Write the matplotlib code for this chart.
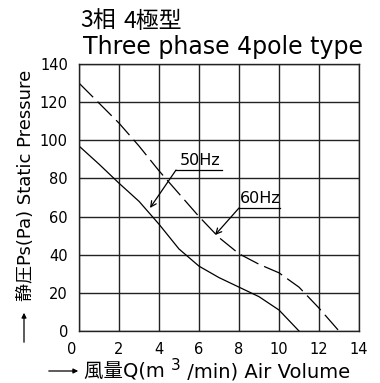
import matplotlib
matplotlib.use("Agg")
import matplotlib.pyplot as plt

plt.rcParams['font.family'] = ['DejaVu Sans', 'Noto Sans CJK JP']

# Data
q50 = [0, 1, 2, 3, 4, 5, 6, 7, 8, 9, 10, 11]
p50 = [97, 87.5, 77.5, 68, 56, 43, 34, 28, 23, 18, 11, 0]
q60 = [0, 1, 2, 3, 4, 5, 6, 7, 8, 9, 10, 11, 12, 13]
p60 = [130, 119.5, 109, 97, 84, 72, 60, 49, 40.5, 35, 30.5, 23, 12, 0]
xticks = [0, 2, 4, 6, 8, 10, 12, 14]
yticks = [0, 20, 40, 60, 80, 100, 120, 140]

title_jp_parts = ["3相", "4極型"]
title_en = "Three phase 4pole type"
xlabel_parts = ["風量Q(m ", "3", " /min) Air Volume"]
ylabel = "静圧Ps(Pa) Static Pressure"

W, H = 380, 383
fig = plt.figure(figsize=(W / 100, H / 100), dpi=100)
ax = fig.add_axes([79 / W, 1 - 331 / H, 280 / W, 267 / H])
ax.set_xlim(0, 14)
ax.set_ylim(0, 140)
ax.set_xticks(xticks)
ax.set_yticks(yticks)
ax.set_xticklabels([''] + [str(v) for v in xticks[1:]])
ax.tick_params(length=0, labelsize=10.5, pad=8, colors='black')
ax.tick_params(axis='y', pad=8)
ax.text(-0.35, -6, "0", ha='center', va='top', fontsize=10.5)
ax.grid(True, color='#222222', linewidth=1.0)
for s in ax.spines.values():
    s.set_linewidth(1.0)
    s.set_color('#222222')

ax.plot(q50, p50, color='black', linewidth=0.9)
ax.plot(q60, p60, color='black', linewidth=0.9, dashes=(16, 5))

# Labels with leaders
ax.plot([4.85, 7.15], [84.4, 84.4], color='black', linewidth=0.9)
ax.annotate("", xy=(3.55, 64.5), xytext=(4.85, 84.4),
            arrowprops=dict(arrowstyle='->', color='black', lw=0.9, shrinkA=0, shrinkB=0))
ax.text(6.05, 85.5, "50Hz", ha='center', va='bottom', fontsize=11.5)
ax.plot([8.0, 10.05], [64.5, 64.5], color='black', linewidth=0.9)
ax.annotate("", xy=(6.8, 50.3), xytext=(8.0, 64.5),
            arrowprops=dict(arrowstyle='->', color='black', lw=0.9, shrinkA=0, shrinkB=0))
ax.text(9.05, 65.5, "60Hz", ha='center', va='bottom', fontsize=11.5)

# Titles
fig.text(80 / W, 1 - 28 / H, title_jp_parts[0], ha='left', va='baseline', fontsize=16.5,
         family=['Noto Sans CJK JP', 'DejaVu Sans'])
fig.text(124 / W, 1 - 28 / H, title_jp_parts[1], ha='left', va='baseline', fontsize=16.5,
         family=['Noto Sans CJK JP', 'DejaVu Sans'])
fig.text(83 / W, 1 - 54 / H, title_en, ha='left', va='baseline', fontsize=17)

# X label with arrow (pieces placed one after another)
renderer = fig.canvas.get_renderer()
x0 = 84
sizes = [14, 11, 14]
rises = [0, 7, 0]
for part, fs, rise in zip(xlabel_parts, sizes, rises):
    t = fig.text(x0 / W, (H - 377 + rise) / H, part, ha='left', va='baseline', fontsize=fs,
                 family=['DejaVu Sans', 'Noto Sans CJK JP'])
    bb = t.get_window_extent(renderer)
    x0 = bb.x1
fig.add_artist(matplotlib.patches.FancyArrowPatch((46 / W, 1 - 371 / H), (81 / W, 1 - 371 / H),
               transform=fig.transFigure, arrowstyle='-|>', mutation_scale=7, color='black', lw=0.9))

# Y label with arrow
fig.text(26 / W, 1 - 185 / H, ylabel, ha='center', va='center', rotation=90, fontsize=13,
         family=['DejaVu Sans', 'Noto Sans CJK JP'])
fig.add_artist(matplotlib.patches.FancyArrowPatch((24 / W, 1 - 345 / H), (24 / W, 1 - 310 / H),
               transform=fig.transFigure, arrowstyle='-|>', mutation_scale=7, color='black', lw=0.9))

fig.savefig("out.png", dpi=100)
